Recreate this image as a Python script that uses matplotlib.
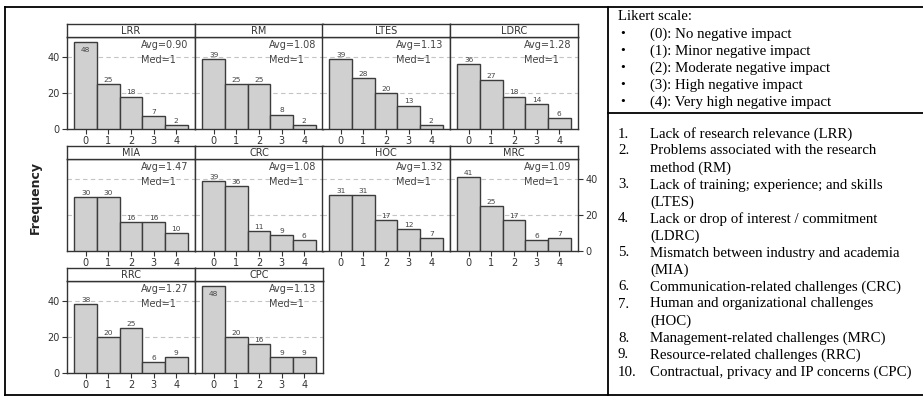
import matplotlib
matplotlib.use("Agg")
import matplotlib.pyplot as plt
from matplotlib.lines import Line2D

# ---------------- data ----------------
categories = [0, 1, 2, 3, 4]
panel_names = ["LRR", "RM", "LTES", "LDRC", "MIA", "CRC", "HOC", "MRC", "RRC", "CPC"]
LRR = [48, 25, 18, 7, 2]
RM = [39, 25, 25, 8, 2]
LTES = [39, 28, 20, 13, 2]
LDRC = [36, 27, 18, 14, 6]
MIA = [30, 30, 16, 16, 10]
CRC = [39, 36, 11, 9, 6]
HOC = [31, 31, 17, 12, 7]
MRC = [41, 25, 17, 6, 7]
RRC = [38, 20, 25, 6, 9]
CPC = [48, 20, 16, 9, 9]
series = [LRR, RM, LTES, LDRC, MIA, CRC, HOC, MRC, RRC, CPC]
averages = ["0.90", "1.08", "1.13", "1.28", "1.47", "1.08", "1.32", "1.09", "1.27", "1.13"]
medians = ["1"] * 10
y_ticks = [0, 20, 40]

likert_title = "Likert scale:"
likert_items = ["(0): No negative impact", "(1): Minor negative impact",
                "(2): Moderate negative impact", "(3): High negative impact",
                "(4): Very high negative impact"]
legend_lines = [
    ("1.", "Lack of research relevance (LRR)"),
    ("2.", "Problems associated with the research"),
    ("", "method (RM)"),
    ("3.", "Lack of training; experience; and skills"),
    ("", "(LTES)"),
    ("4.", "Lack or drop of interest / commitment"),
    ("", "(LDRC)"),
    ("5.", "Mismatch between industry and academia"),
    ("", "(MIA)"),
    ("6.", "Communication-related challenges (CRC)"),
    ("7.", "Human and organizational challenges"),
    ("", "(HOC)"),
    ("8.", "Management-related challenges (MRC)"),
    ("9.", "Resource-related challenges (RRC)"),
    ("10.", "Contractual, privacy and IP concerns (CPC)"),
]

# ---------------- figure ----------------
W, H = 923, 396
fig = plt.figure(figsize=(W / 100, H / 100), dpi=100)


def fx(px):
    return px / W


def fy(px):
    return 1 - px / H


dark = "#333333"
bar_face = "#d0d0d0"
bar_edge = "#3c3c3c"
sans = "DejaVu Sans"

col_left = [67, 195, 322, 450]
panel_w = 128
for i, (name, vals) in enumerate(zip(panel_names, series)):
    row, col = divmod(i, 4)
    bottom_px = 129 + 122 * row
    top_px = bottom_px - 92
    left_px = col_left[col]
    ax = fig.add_axes([fx(left_px), fy(bottom_px), fx(panel_w), (bottom_px - top_px) / H])
    ax.bar(categories, vals, width=1.0, color=bar_face, edgecolor=bar_edge,
           linewidth=1.0, zorder=3)
    ax.set_xlim(-0.83, 4.83)
    ax.set_ylim(0, 51)
    for g in (20, 40):
        ax.axhline(g, color="#c4c4c4", lw=0.8, ls=(0, (4, 3)), zorder=1)
    for x, v in zip(categories, vals):
        if v > 45:
            ax.annotate(str(v), (x, v), xytext=(0, -3), textcoords="offset points",
                        ha="center", va="top", fontsize=5.3, color="#444444",
                        family=sans, zorder=4)
        else:
            ax.annotate(str(v), (x, v), xytext=(0, 0.8), textcoords="offset points",
                        ha="center", va="bottom", fontsize=5.3, color="#444444",
                        family=sans, zorder=4)
    ax.text(2.44, 46.7, "Avg=" + averages[i], fontsize=7, color="#444444",
            family=sans, ha="left", va="center", zorder=4)
    ax.text(2.44, 38.4, "Med=" + medians[i], fontsize=7, color="#444444",
            family=sans, ha="left", va="center", zorder=4)
    ax.set_xticks(categories)
    ax.set_xticklabels([str(c) for c in categories], fontsize=7, color=dark, family=sans)
    ax.tick_params(axis="x", length=3.5, width=0.8, color=dark, pad=1.5)
    ax.set_yticks(y_ticks)
    if (row in (0, 2)) and col == 0:
        ax.tick_params(axis="y", left=True, right=False, labelleft=True, labelright=False,
                       length=3.5, width=0.8, color=dark, labelsize=7, labelcolor=dark, pad=2)
    elif row == 1 and col == 3:
        ax.tick_params(axis="y", left=False, right=True, labelleft=False, labelright=True,
                       length=3.5, width=0.8, color=dark, labelsize=7, labelcolor=dark, pad=2)
    else:
        ax.tick_params(axis="y", left=False, right=False, labelleft=False, labelright=False)
    for s in ax.spines.values():
        s.set_color(dark)
        s.set_linewidth(1.0)
    ax.set_facecolor("white")

    # header strip
    hax = fig.add_axes([fx(left_px), fy(top_px), fx(panel_w), 13 / H])
    hax.set_xticks([])
    hax.set_yticks([])
    for s in hax.spines.values():
        s.set_color(dark)
        s.set_linewidth(1.0)
    hax.text(0.5, 0.45, name, ha="center", va="center", fontsize=7, color=dark,
             family=sans, transform=hax.transAxes)

# y label
fig.text(fx(35), fy(198), "Frequency", rotation=90, ha="center", va="center",
         fontsize=9, fontweight="bold", color="#222222", family=sans)

# outer table lines
lw_frame = 1.3
for (x0, y0, x1, y1) in [(5, 7, 923, 7), (5, 395, 923, 395), (5, 7, 5, 395),
                         (608, 7, 608, 395), (608, 113, 923, 113)]:
    fig.add_artist(Line2D([fx(x0), fx(x1)], [fy(y0), fy(y1)], color="black",
                          lw=lw_frame, transform=fig.transFigure))

serif = "Liberation Serif"
fs = 10.7
fig.text(fx(618), fy(17), likert_title, ha="left", va="center", fontsize=fs,
         family=serif, color="black")
for k, item in enumerate(likert_items):
    y = 34 + 17 * k
    fig.text(fx(620), fy(y), "\u2022", ha="left", va="center", fontsize=fs - 1,
             family=serif, color="black")
    fig.text(fx(650), fy(y), item, ha="left", va="center", fontsize=fs,
             family=serif, color="black")

for k, (num, txt) in enumerate(legend_lines):
    y = 134 + 17 * k
    if num:
        fig.text(fx(618), fy(y), num, ha="left", va="center", fontsize=fs,
                 family=serif, color="black")
    fig.text(fx(650), fy(y), txt, ha="left", va="center", fontsize=fs,
             family=serif, color="black")

fig.savefig("out.png", dpi=100)
